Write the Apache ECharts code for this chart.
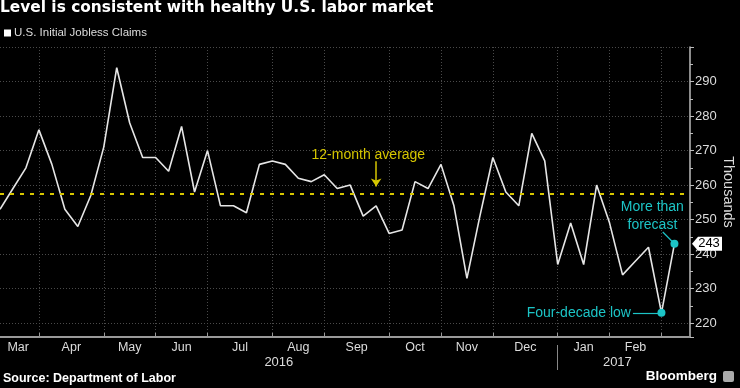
<!DOCTYPE html>
<html><head><meta charset="utf-8">
<script src="https://cdn.jsdelivr.net/npm/echarts@6/dist/echarts.min.js"></script>
<style>html,body{margin:0;padding:0;background:#000;}#c{width:740px;height:388px;}</style>
</head><body><div id="c"></div>
<script>
// ---- data ----
const chartTitle = 'Level is consistent with healthy U.S. labor market';
const seriesName = 'U.S. Initial Jobless Claims';
const sourceText = 'Source: Department of Labor';
// weekly initial jobless claims (thousands), Mar 2016 - Mar 2017
const claims = [253, 259, 265, 276, 266, 253, 248, 257, 271, 294, 278, 268, 268, 264, 277, 258, 270, 254, 254, 252,
  266, 267, 266, 262, 261, 263, 259, 260, 251, 254, 246, 247, 261, 259, 266, 254, 233, 251, 268, 258,
  254, 275, 267, 237, 249, 237, 260, 249, 234, 238, 242, 223, 243];
const avg12m = 257.6;
const monthNames = ['Mar', 'Apr', 'May', 'Jun', 'Jul', 'Aug', 'Sep', 'Oct', 'Nov', 'Dec', 'Jan', 'Feb'];
const monthStarts = [-0.3, 3, 8, 12, 16, 21, 25, 30, 34, 38, 43, 47, 51]; // week index bounds
const yearNames = ['2016', '2017'];
const yearBounds = [0, 43, 52.2];
const yMin = 216, yMax = 300;
const xSpanWeeks = 53.2;

// ---- build ----
const RES = 10;
const nCat = Math.round(xSpanWeeks * RES) + 1;
const cats = Array.from({length: nCat}, (_, k) => String(k));
const gridSet = new Set(monthStarts.slice(1).map(w => Math.round(w * RES)));
const monthLabelAt = {};
monthNames.forEach((m, j) => { monthLabelAt[Math.round((monthStarts[j] + monthStarts[j + 1]) / 2 * RES)] = m; });
const yearLabelAt = {};
yearNames.forEach((y, j) => { yearLabelAt[Math.round((yearBounds[j] + yearBounds[j + 1]) / 2 * RES)] = y; });
const yearSep = Math.round(yearBounds[1] * RES);
const seriesData = claims.map((v, i) => [i * RES, v]);
const last = claims.length - 1;

const YEL = '#d6c600', CYAN = '#1cc4c6', TXT = '#dcdcdc';
const FONT = 'Liberation Sans, Arial, sans-serif';

const chart = echarts.init(document.getElementById('c'), null, {renderer: 'canvas'});
chart.setOption({
  backgroundColor: '#000',
  animation: false,
  textStyle: {fontFamily: FONT},
  title: [
    {text: chartTitle, left: 0, top: 0, padding: 0,
     textStyle: {color: '#fff', fontFamily: 'DejaVu Sans', fontWeight: 'bold', fontSize: 15.4}},
    {text: sourceText, left: 3, bottom: 3, padding: 0,
     textStyle: {color: '#fff', fontFamily: FONT, fontWeight: 'bold', fontSize: 12.5}},
    {text: 'Bloomberg', right: 23, bottom: 5, padding: 0,
     textStyle: {color: '#fff', fontFamily: FONT, fontWeight: 'bold', fontSize: 13.5}}
  ],
  graphic: [{type: 'rect', right: 6, bottom: 6, shape: {width: 11, height: 11, r: 2}, style: {fill: '#aaa'}}],
  legend: {
    data: [seriesName], left: 4, top: 27, padding: 0, icon: 'rect', itemWidth: 7, itemHeight: 7, itemGap: 4,
    itemStyle: {color: '#fff'}, textStyle: {color: TXT, fontSize: 11.5, fontFamily: FONT, padding: [0, 0, 0, -2]}
  },
  grid: {left: 0, right: 50, top: 47, bottom: 51, containLabel: false, outerBoundsMode: 'none'},
  xAxis: [{
    type: 'category', data: cats, boundaryGap: false,
    axisLine: {show: true, lineStyle: {color: '#999', width: 2}},
    axisTick: {show: true, inside: true, length: 4, interval: (i) => gridSet.has(i), lineStyle: {color: '#999'}},
    splitLine: {show: true, interval: (i) => gridSet.has(i), lineStyle: {color: '#4a4a4a', type: [1, 2], width: 1}},
    axisLabel: {show: true, interval: (i) => monthLabelAt[i] !== undefined, formatter: (v, i) => monthLabelAt[i] || '',
      color: TXT, fontSize: 12.5, margin: 4, fontFamily: FONT}
  }, {
    type: 'category', data: cats, boundaryGap: false, position: 'bottom', offset: 8,
    axisLine: {show: false},
    axisTick: {show: true, length: 25, interval: (i) => i === yearSep, lineStyle: {color: '#888'}},
    splitLine: {show: false},
    axisLabel: {show: true, interval: (i) => yearLabelAt[i] !== undefined, formatter: (v, i) => yearLabelAt[i] || '',
      color: TXT, fontSize: 13, margin: 11, fontFamily: FONT}
  }],
  yAxis: {
    type: 'value', position: 'right', min: yMin, max: yMax, minInterval: 10, maxInterval: 10, splitNumber: 8,
    name: 'Thousands', nameLocation: 'middle', nameRotate: -90, nameGap: 30, nameMoveOverlap: false,
    nameTextStyle: {color: TXT, fontSize: 14.5, fontFamily: FONT},
    axisLine: {show: true, lineStyle: {color: '#bbb', width: 1.5}},
    axisTick: {show: true, length: 4, lineStyle: {color: '#bbb'}},
    minorTick: {show: true, splitNumber: 2, length: 3, lineStyle: {color: '#bbb'}},
    splitLine: {show: true, lineStyle: {color: '#4a4a4a', type: [1, 2], width: 1}},
    axisLabel: {color: TXT, fontSize: 13, margin: 5, showMinLabel: false, showMaxLabel: false, fontFamily: FONT}
  },
  series: [{
    name: seriesName, type: 'line', data: seriesData, xAxisIndex: 0, showSymbol: false, symbol: 'none',
    lineStyle: {color: '#e6e6e6', width: 1.6}, itemStyle: {color: '#fff'}, clip: false,
    markLine: {
      silent: true, symbol: 'none', animation: false,
      data: [
        {yAxis: avg12m, lineStyle: {color: YEL, type: [4, 6], width: 2}, label: {show: false}},
        [{coord: [290, 266.9], lineStyle: {color: YEL, type: 'solid', width: 1.5}, label: {show: false}, symbol: 'none'},
         {coord: [290, 259.6], symbol: 'arrow', symbolSize: 8}],
        [{coord: [488, claims[last - 1]], lineStyle: {color: CYAN, type: 'solid', width: 1.2},
          label: {show: true, position: 'start', distance: 2, formatter: 'Four-decade low', color: CYAN, fontSize: 14, fontFamily: FONT}},
         {coord: [(last - 1) * RES, claims[last - 1]]}],
        [{coord: [511, 246.4], lineStyle: {color: CYAN, type: 'solid', width: 1.2}, label: {show: false}},
         {coord: [last * RES, claims[last]]}]
      ]
    },
    markPoint: {
      silent: true, animation: false,
      data: [
        {coord: [(last - 1) * RES, claims[last - 1]], symbol: 'circle', symbolSize: 8, itemStyle: {color: CYAN}, label: {show: false}},
        {coord: [last * RES, claims[last]], symbol: 'circle', symbolSize: 8, itemStyle: {color: CYAN}, label: {show: false}},
        {coord: [284, 268.8], symbol: 'circle', symbolSize: 1, itemStyle: {color: 'rgba(0,0,0,0)'},
         label: {show: true, position: 'inside', formatter: '12-month average', color: YEL, fontSize: 14, fontFamily: FONT}},
        {coord: [503, 251.1], symbol: 'circle', symbolSize: 1, itemStyle: {color: 'rgba(0,0,0,0)'},
         label: {show: true, position: 'inside', formatter: 'More than\nforecast', color: CYAN, fontSize: 14, lineHeight: 18, fontFamily: FONT}},
        {coord: [nCat - 1, claims[last]], symbol: 'path://M0,7 L6,0 L30,0 L30,14 L6,14 Z', symbolKeepAspect: false,
         symbolSize: [30, 14], symbolOffset: [17, 0], itemStyle: {color: '#fff'},
         label: {show: true, position: 'inside', offset: [2, 0], formatter: String(claims[last]), color: '#000', fontSize: 13, fontFamily: FONT}}
      ]
    }
  }]
});
</script></body></html>
